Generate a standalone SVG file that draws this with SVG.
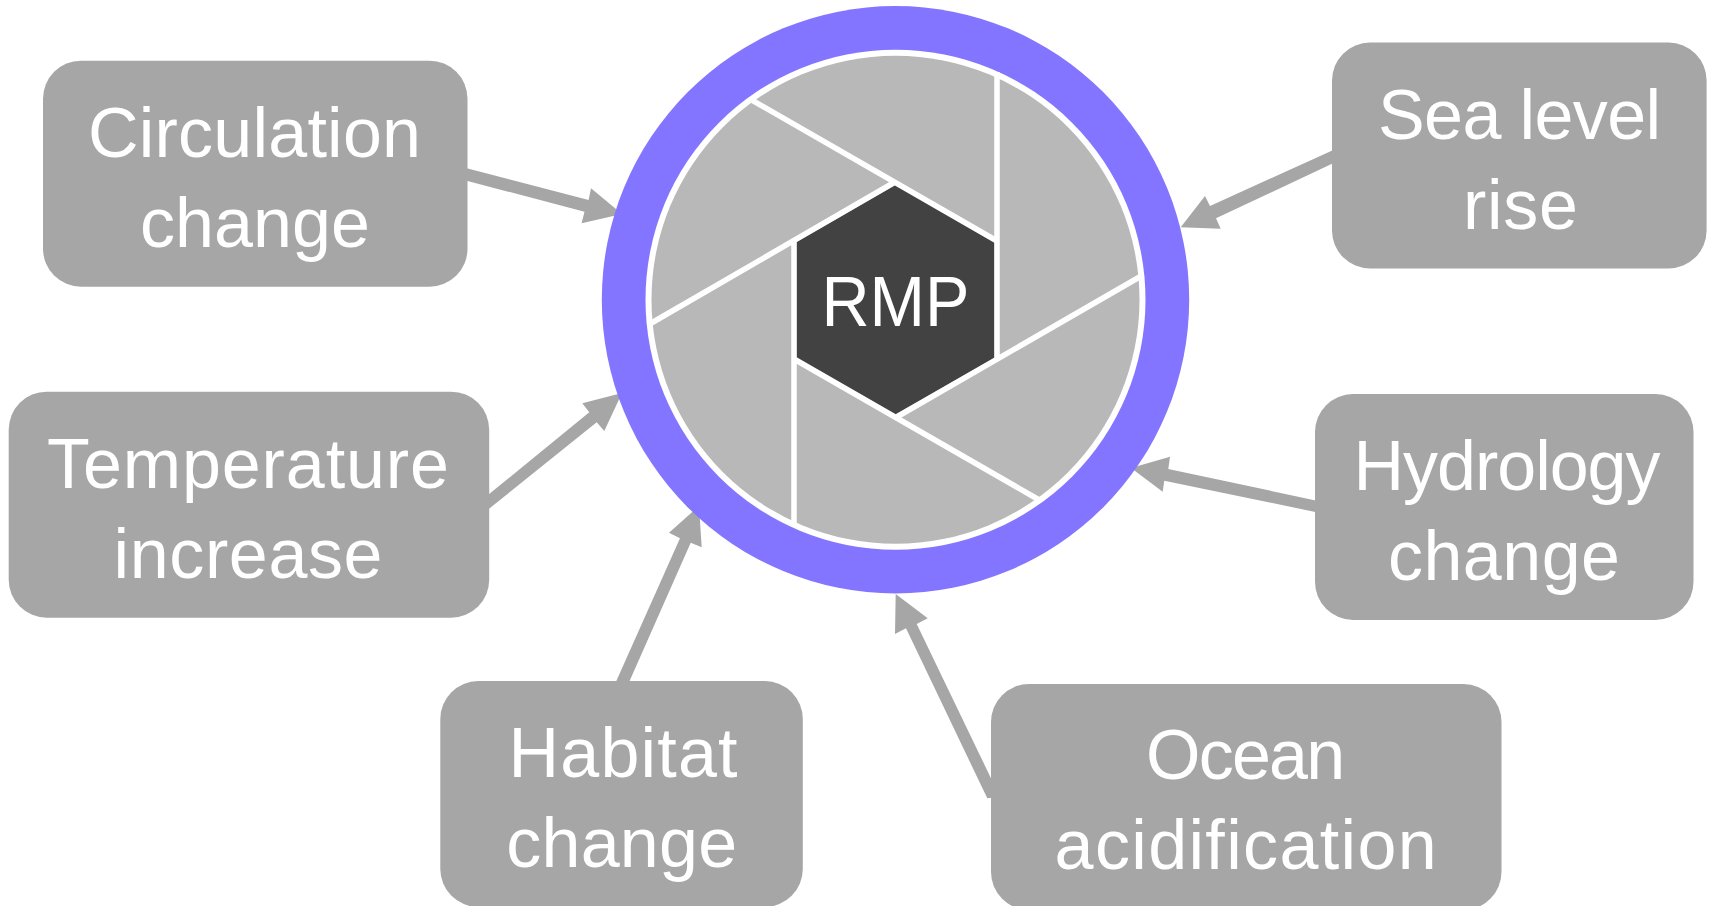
<svg xmlns="http://www.w3.org/2000/svg" width="1711" height="906" viewBox="0 0 1711 906">
<style>
.box{fill:#A6A6A6}
.arrow{fill:#A6A6A6}
.blade-line{stroke:#fff;stroke-width:5.5;fill:none;stroke-linecap:butt}
text{font-family:"Liberation Sans",Arial,sans-serif;font-size:70px;fill:#fff;text-anchor:middle}
</style>
<rect width="1711" height="906" fill="#fff"/>
<g id="connectors">
<polygon class="arrow" points="460,166.5 588.6,200 591,188.3 622,214 581.6,223.3 584.5,211.7 460,179"/>
<polygon class="arrow" points="1340,147 1210,206 1205,196 1180.7,227.3 1220.7,228.7 1216,218.3 1340,160"/>
<polygon class="arrow" points="480,501.5 589.3,412.3 582.3,403.3 622,393 604.3,431 596.7,422.3 480,516"/>
<polygon class="arrow" points="1325,502.4 1168.3,469 1170,456.7 1131,468 1162.7,491.7 1164.3,480.7 1325,514"/>
<polygon class="arrow" points="612.3,690 680,538.3 669,532.7 699,506 701.7,547.3 690.7,542.7 625.6,690"/>
<polygon class="arrow" points="1000,797 916.7,624 927.7,618.3 895.7,594 895,634 906,628.3 987.3,798.3"/>
</g>
<g id="node-rmp">
<circle cx="895.5" cy="299.7" r="293.7" fill="#8375FF"/>
<circle cx="895.5" cy="299.7" r="250" fill="#fff"/>
<circle cx="895.5" cy="299.7" r="244" fill="#B8B8B8"/>
<polygon points="895.3,185 994.5,242 994.5,358 895.3,414.5 796.4,358 796.4,242" fill="#424242"/>
<path class="blade-line" d="M997 72V359M750 99L997 241M1143 275L895 418M1041 501L794 359M794 527V241M648 325L895 182"/>
<text x="895.5" y="326" textLength="148" lengthAdjust="spacingAndGlyphs">RMP</text>
</g>
<g id="node-circulation">
<rect class="box" x="43" y="60.7" width="424.5" height="226" rx="38"/>
<text x="254.5" y="156.7" textLength="333">Circulation</text>
<text x="255" y="246.7" textLength="230">change</text>
</g>
<g id="node-sea-level">
<rect class="box" x="1332" y="42.5" width="374.6" height="226" rx="38"/>
<text x="1519.5" y="138.5" textLength="283">Sea level</text>
<text x="1520.5" y="228.5" textLength="115">rise</text>
</g>
<g id="node-temperature">
<rect class="box" x="8.7" y="391.7" width="480.5" height="226" rx="38"/>
<text x="248" y="487.7" textLength="402">Temperature</text>
<text x="248" y="577.7" textLength="269">increase</text>
</g>
<g id="node-hydrology">
<rect class="box" x="1315" y="394" width="378.5" height="226" rx="38"/>
<text x="1507" y="490" textLength="307">Hydrology</text>
<text x="1504" y="580" textLength="232">change</text>
</g>
<g id="node-habitat">
<rect class="box" x="440.3" y="681" width="362.5" height="226" rx="38"/>
<text x="623" y="777.3" textLength="229">Habitat</text>
<text x="621.7" y="866.7" textLength="231">change</text>
</g>
<g id="node-ocean">
<rect class="box" x="991" y="684" width="510.5" height="226" rx="38"/>
<text x="1245.6" y="779" textLength="199">Ocean</text>
<text x="1245.6" y="869" textLength="382">acidification</text>
</g>
</svg>
